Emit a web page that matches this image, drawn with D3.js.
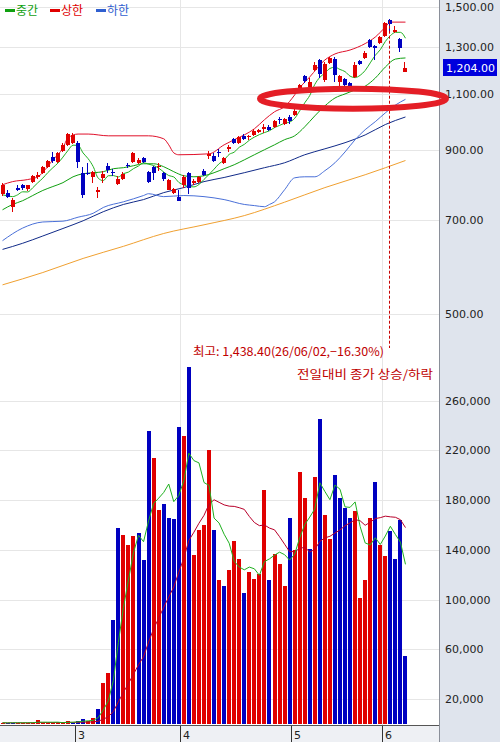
<!DOCTYPE html>
<html>
<head>
<meta charset="utf-8">
<script src="https://cdnjs.cloudflare.com/ajax/libs/d3/7.8.5/d3.min.js"></script>
<style>
body { margin: 0; background: #fff; }
svg { display: block; }
.tick-label { font-family: "DejaVu Sans", sans-serif; font-size: 11px; fill: #222; }
.kor { font-family: "Noto Sans CJK KR", sans-serif; }
</style>
</head>
<body>
<div id="chart"></div>
<script>
// daily candles
var opens  = [769,772,734,786,792,780,803,817,829,847,878,862,897,916,923,923,829,829,817,772,
              815,850,832,797,812,852,862,859,875,832,847,847,829,780,772,761,792,829,800,803,
              835,881,881,892,859,903,936,923,946,939,950,960,970,977,977,1004,988,1013,1020,1119,
              1172,1127,1197,1241,1155,1228,1245,1147,1159,1143,1168,1236,1250,1333,1304,1318,1352,1431,1372,1337,1189];
var highs  = [800,780,756,792,797,794,823,832,850,868,894,894,923,956,956,929,847,859,835,789,
              835,859,841,820,832,859,894,875,878,835,850,859,832,812,786,778,823,832,812,820,
              841,897,890,903,878,916,939,946,953,950,970,970,988,984,1002,1013,1009,1020,1045,1139,
              1176,1163,1232,1245,1232,1254,1254,1176,1163,1147,1232,1241,1281,1337,1309,1352,1421,1438.4,1401,1342,1232];
var lows   = [764,758,719,777,780,777,800,812,826,844,859,859,894,913,919,844,756,823,800,756,
              800,829,820,794,809,844,859,856,859,800,809,835,806,778,767,748,786,767,794,800,
              820,872,862,878,856,894,920,920,933,933,946,956,956,963,973,988,984,988,1016,1115,
              1143,1123,1193,1163,1147,1223,1147,1131,1131,1123,1163,1219,1245,1295,1241,1314,1347,1366,1366,1277,1187];
var closes = [794,761,753,780,783,792,820,823,847,865,865,890,916,953,950,862,767,826,832,778,
              826,838,829,812,826,849,890,869,862,803,829,850,812,809,783,750,815,786,806,817,
              823,887,865,889,875,910,923,943,936,944,962,966,977,968,998,1000,1005,998,1034,1135,
              1151,1147,1219,1180,1223,1250,1174,1170,1135,1127,1219,1223,1272,1300,1295,1347,1416,1411,1381,1295,1204];
var volumes = [1000,800,1200,1000,900,1000,1200,3000,1000,1000,900,1500,1000,2500,1200,2500,4000,2500,4500,
               12000,33000,41000,84000,158000,152000,144000,151000,154000,132000,236000,214000,172000,177000,166000,165000,
               239000,232000,287000,136000,156000,160000,220000,156000,116000,111000,124000,147000,133000,105000,122000,
               117000,121000,188000,116000,137000,129000,111000,166000,140000,203000,182000,141000,199000,245000,168000,
               149000,200000,182000,174000,166000,171000,101000,116000,166000,195000,144000,135000,155000,133000,164000,55000];

// overlay lines as [day index, price]
var upperBand = [[0,794],[2,803],[5,809],[7,817],[10,868],[12,906],[13,939],[15,952],[17,952],[21,946],[29,946],
                 [32,936],[33,916],[34,890],[35,884],[41,887],[44,916],[46,933],[48,949],[50,970],[52,1002],
                 [54,1031],[56,1050],[58,1095],[59,1123],[61,1168],[64,1241],[66,1268],[69,1286],[72,1316],
                 [74,1347],[76,1396],[77,1421],[80,1421]];
var midBand = [[0,726],[2,740],[4,750],[6,764],[8,778],[10,789],[12,800],[14,817],[16,826],[18,829],[20,832],
               [22,841],[24,844],[26,850],[28,856],[30,856],[32,847],[34,832],[36,820],[38,817],[40,820],
               [42,829],[44,841],[46,853],[48,868],[50,884],[52,900],[54,916],[56,933],[58,946],[60,977],
               [62,1016],[64,1053],[66,1083],[68,1099],[70,1115],[72,1130],[74,1163],[76,1210],[78,1245],[80,1250]];
var lowerBand = [[0,650],[4,680],[8,695],[12,697],[15,707],[18,717],[20,732],[24,747],[28,764],[29,769],
                 [32,761],[36,764],[40,761],[44,753],[48,740],[50,737],[52,734],[53,740],[54,747],[56,780],
                 [58,814],[60,817],[62,817],[64,835],[66,859],[68,893],[70,933],[72,967],[74,995],[76,1027],
                 [78,1056],[80,1078]];
var ma60 = [[0,630],[4,644],[8,661],[12,679],[16,698],[20,721],[24,740],[28,753],[32,772],[36,786],[40,803],
            [44,815],[48,829],[52,844],[56,859],[60,884],[64,903],[68,923],[72,949],[76,985],[80,1012]];
var ma120 = [[0,555],[8,580],[16,610],[24,637],[32,667],[40,688],[48,711],[56,746],[64,786],[72,823],[80,866]];
var ma5Lead = [766,763,761,766];

var months = ["3","4","5","6"];
var monthStart = [15,36,58,76];
var priceTicks = [500,700,900,1100,1300,1500];
var volTicks = [20000,60000,100000,140000,180000,220000,260000];
var maxHighDate = "26/06/02";

var width = 500, height = 742;
var plotRight = 440;
var n = closes.length;
var UP = "#e00000", DOWN = "#0000c0";
var PRICE = d3.format(",.2f");
var VOL = d3.format(",");

var svg = d3.select("#chart").append("svg")
  .attr("width", width)
  .attr("height", height)

var x = d3.scaleBand()
  .domain(d3.range(n))
  .range([0, 408])
  .paddingInner(0.2)
  .paddingOuter(0.1);
var step = x.step();
function cx(i) { return x(i) + x.bandwidth() / 2; }
function bx(i) { return Math.round(x(i)); }

var yP = d3.scaleLog().domain([500, 1500]).range([314, 7]);
var yV = d3.scaleLinear().domain([0, 260000]).range([724, 400.7]);

// grid
var grid = svg.append("g").attr("stroke", "#e6e6e6").attr("shape-rendering", "crispEdges");
priceTicks.forEach(function(t){
  grid.append("line").attr("x1", 0).attr("x2", plotRight)
    .attr("y1", Math.round(yP(t)) + 0.5).attr("y2", Math.round(yP(t)) + 0.5);
});
volTicks.forEach(function(t){
  grid.append("line").attr("x1", 0).attr("x2", plotRight)
    .attr("y1", Math.round(yV(t)) + 0.5).attr("y2", Math.round(yV(t)) + 0.5);
});
months.forEach(function(m, k){
  if (+m % 2 != 0) return;
  var mx = Math.round(x(monthStart[k]) - step * 0.1) - 0.5;
  grid.append("line").attr("x1", mx).attr("x2", mx).attr("y1", 0).attr("y2", 725);
});

// price overlays
var sampleLine = d3.line()
  .x(function(d){ return cx(d[0]); })
  .y(function(d){ return yP(d[1]); })
  .curve(d3.curveMonotoneX);

var ma5 = closes.map(function(c, i){
  if (i < 4) return [i, ma5Lead[i]];
  return [i, d3.mean(closes.slice(i - 4, i + 1))];
});

var overlays = [
  {data: ma120, color: "#f0a030"},
  {data: ma60, color: "#102a88"},
  {data: lowerBand, color: "#4a70d8"},
  {data: upperBand, color: "#e0102a"},
  {data: midBand, color: "#10a010"},
  {data: ma5, color: "#20b020"}
];
svg.append("g").selectAll("path")
  .data(overlays)
  .enter().append("path")
    .attr("d", function(d){ return sampleLine(d.data); })
    .attr("fill", "none")
    .attr("stroke", function(d){ return d.color; })
    .attr("stroke-width", 1);

// candles
var candles = svg.append("g").attr("shape-rendering", "crispEdges")
  .selectAll("g")
  .data(d3.range(n))
  .enter().append("g")
    .attr("fill", function(i){ return closes[i] >= opens[i] ? UP : DOWN; })
    .attr("stroke", function(i){ return closes[i] >= opens[i] ? UP : DOWN; });

candles.append("line")
  .attr("x1", function(i){ return bx(i) + 1.5; })
  .attr("x2", function(i){ return bx(i) + 1.5; })
  .attr("y1", function(i){ return Math.round(yP(highs[i])); })
  .attr("y2", function(i){ return Math.round(yP(lows[i])); });

candles.append("rect")
  .attr("stroke", "none")
  .attr("x", function(i){ return bx(i); })
  .attr("width", 4)
  .attr("y", function(i){ return Math.round(yP(Math.max(opens[i], closes[i]))); })
  .attr("height", function(i){
    return Math.max(1, Math.round(Math.abs(yP(opens[i]) - yP(closes[i]))));
  });

// volume bars, coloured by close against the previous close
function volColor(i) {
  if (i == 0) return UP;
  return closes[i] >= closes[i - 1] ? UP : DOWN;
}
svg.append("g").attr("shape-rendering", "crispEdges")
  .selectAll("rect")
  .data(volumes)
  .enter().append("rect")
    .attr("x", function(d, i){ return bx(i); })
    .attr("width", 4)
    .attr("y", function(d){ return Math.round(yV(d)); })
    .attr("height", function(d){ return Math.max(1, 724 - Math.round(yV(d))); })
    .attr("fill", function(d, i){ return volColor(i); });

function movingAvg(arr, len) {
  return arr.map(function(v, i){
    return d3.mean(arr.slice(Math.max(0, i - len + 1), i + 1));
  });
}
var volLine = d3.line()
  .x(function(d, i){ return cx(i); })
  .y(function(d){ return yV(d); });

svg.append("path")
  .attr("d", volLine(movingAvg(volumes, 20)))
  .attr("fill", "none")
  .attr("stroke", "#b8002a")
  .attr("stroke-width", 1);
svg.append("path")
  .attr("d", volLine(movingAvg(volumes, 5)))
  .attr("fill", "none")
  .attr("stroke", "#20b020")
  .attr("stroke-width", 1);

// highest-price marker
var maxHigh = d3.max(highs);
var maxIdx = highs.indexOf(maxHigh);
var lastClose = closes[n - 1];
var mx = Math.round(cx(maxIdx)) - 0.5;
svg.append("line")
  .attr("x1", mx).attr("x2", mx)
  .attr("y1", yP(maxHigh) + 2)
  .attr("y2", 348)
  .attr("stroke", "#c80000")
  .attr("stroke-dasharray", "3,2");

svg.append("text")
  .attr("class", "kor")
  .attr("x", 384)
  .attr("y", 356)
  .attr("text-anchor", "end")
  .attr("font-size", 12)
  .attr("fill", "#c00000")
  .attr("textLength", 191)
  .attr("lengthAdjust", "spacingAndGlyphs")
  .text("최고: " + PRICE(maxHigh) + "(" + maxHighDate + "," + d3.format(".2f")((lastClose / maxHigh - 1) * 100) + "%)");

svg.append("text")
  .attr("class", "kor")
  .attr("x", 433)
  .attr("y", 379)
  .attr("text-anchor", "end")
  .attr("font-size", 12)
  .attr("fill", "#c00000")
  .attr("textLength", 136)
  .attr("lengthAdjust", "spacingAndGlyphs")
  .text("전일대비 종가 상승/하락");

// legend
var legendItems = [["중간", "#10a010"], ["상한", "#e00000"], ["하한", "#3060d0"]];
var legendX = [5, 50, 96];
var legend = svg.append("g");
legendItems.forEach(function(d, k){
  legend.append("rect")
    .attr("x", legendX[k]).attr("y", 9)
    .attr("width", 10).attr("height", 3)
    .attr("fill", d[1]);
  legend.append("text")
    .attr("class", "kor")
    .attr("x", legendX[k] + 11)
    .attr("y", 15)
    .attr("font-size", 12)
    .attr("fill", d[1])
    .text(d[0]);
});

// bottom date strip
svg.append("rect")
  .attr("x", 0).attr("y", 725)
  .attr("width", plotRight).attr("height", height - 725)
  .attr("fill", "#eef0f4");
svg.append("line")
  .attr("x1", 0).attr("x2", plotRight)
  .attr("y1", 725.5).attr("y2", 725.5)
  .attr("stroke", "#555");
months.forEach(function(m, k){
  var tx = Math.round(x(monthStart[k]) - step * 0.1) - 0.5;
  svg.append("line")
    .attr("x1", tx).attr("x2", tx)
    .attr("y1", 726).attr("y2", height)
    .attr("stroke", "#333");
  svg.append("text")
    .attr("class", "tick-label")
    .attr("x", tx + 2.5)
    .attr("y", 739)
    .text(m);
});

// right axis panel
svg.append("rect")
  .attr("x", plotRight).attr("y", 0)
  .attr("width", width - plotRight).attr("height", height)
  .attr("fill", "#dfe4ed");
svg.append("line")
  .attr("x1", plotRight - 0.5).attr("x2", plotRight - 0.5)
  .attr("y1", 0).attr("y2", height)
  .attr("stroke", "#8a8f99");

svg.append("g").selectAll("text")
  .data(priceTicks)
  .enter().append("text")
    .attr("class", "tick-label")
    .attr("x", 445)
    .attr("y", function(d){ return yP(d) + 4; })
    .text(function(d){ return PRICE(d); });

svg.append("g").selectAll("text")
  .data(volTicks)
  .enter().append("text")
    .attr("class", "tick-label")
    .attr("x", 445)
    .attr("y", function(d){ return yV(d) + 4; })
    .text(function(d){ return VOL(d); });

svg.append("rect")
  .attr("x", 443).attr("y", Math.round(yP(lastClose)) - 9)
  .attr("width", 54).attr("height", 17)
  .attr("fill", "#0000dd");
svg.append("text")
  .attr("class", "tick-label")
  .attr("x", 446)
  .attr("y", yP(lastClose) + 4)
  .style("fill", "#fff")
  .text(PRICE(lastClose));

// hand-drawn highlight round the 1,100 level
svg.append("ellipse")
  .attr("cx", 353)
  .attr("cy", yP(1100) + 5)
  .attr("rx", 93)
  .attr("ry", 10)
  .attr("fill", "none")
  .attr("stroke", "#e41e26")
  .attr("stroke-width", 6);
</script>
</body>
</html>
